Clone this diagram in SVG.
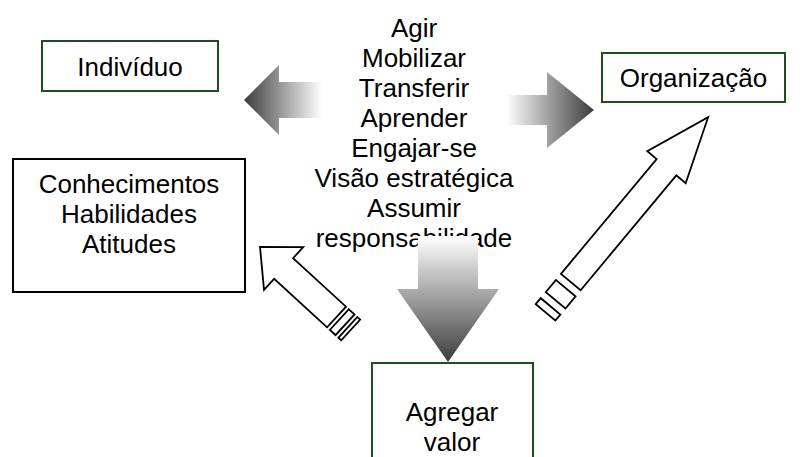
<svg xmlns="http://www.w3.org/2000/svg" width="802" height="457" viewBox="0 0 802 457">
  <defs>
    <style>
      .lbl { font-family: "Liberation Sans", Arial, sans-serif; font-size: 26px; fill: #000; text-anchor: middle; }
      .gbox { fill: #fff; stroke: #1f4f1f; stroke-width: 2; }
      .kbox { fill: #fff; stroke: #000; stroke-width: 2; }
      .out { fill: #fff; stroke: #000; stroke-width: 1.8; stroke-linejoin: miter; }
    </style>
    <linearGradient id="gL" gradientUnits="userSpaceOnUse" x1="244" y1="0" x2="322" y2="0">
      <stop offset="0" stop-color="#3c3c3c"/>
      <stop offset="1" stop-color="#ffffff"/>
    </linearGradient>
    <linearGradient id="gR" gradientUnits="userSpaceOnUse" x1="594" y1="0" x2="506" y2="0">
      <stop offset="0" stop-color="#3c3c3c"/>
      <stop offset="1" stop-color="#ffffff"/>
    </linearGradient>
    <linearGradient id="gD" gradientUnits="userSpaceOnUse" x1="0" y1="362" x2="0" y2="236">
      <stop offset="0" stop-color="#3c3c3c"/>
      <stop offset="1" stop-color="#ffffff"/>
    </linearGradient>
  </defs>
  <rect width="802" height="457" fill="#fff"/>

  <g id="node-individuo">
    <rect class="gbox" x="42" y="41" width="176" height="50"/>
    <text class="lbl" x="130" y="76">Indivíduo</text>
  </g>

  <g id="node-organizacao">
    <rect class="gbox" x="602" y="53" width="183" height="49"/>
    <text class="lbl" x="693.5" y="87">Organização</text>
  </g>

  <g id="node-conhecimentos">
    <rect class="kbox" x="13" y="159" width="232" height="133"/>
    <text class="lbl" x="129" y="193">Conhecimentos</text>
    <text class="lbl" x="129" y="223">Habilidades</text>
    <text class="lbl" x="129" y="253">Atitudes</text>
  </g>

  <g id="node-agregar">
    <rect class="gbox" x="372" y="363" width="161" height="110"/>
    <text class="lbl" x="452" y="421">Agregar</text>
    <text class="lbl" x="452" y="451">valor</text>
  </g>

  <g id="node-acoes">
    <text class="lbl" x="414" y="37">Agir</text>
    <text class="lbl" x="414" y="67">Mobilizar</text>
    <text class="lbl" x="414" y="97">Transferir</text>
    <text class="lbl" x="414" y="127">Aprender</text>
    <text class="lbl" x="414" y="157">Engajar-se</text>
    <text class="lbl" x="414" y="187">Visão estratégica</text>
    <text class="lbl" x="414" y="217">Assumir</text>
    <text class="lbl" x="414" y="247">responsabilidade</text>
  </g>

  <g id="connectors">
    <polygon fill="url(#gL)" points="322,82 279,82 279,65 244,100 279,135 279,118 322,118"/>
    <polygon fill="url(#gR)" points="506,95 547,95 547,72 594,110 547,148 547,125 506,125"/>
    <polygon fill="url(#gD)" points="418,236 478,236 478,289 499,289 448,362 397,289 418,289"/>

    <g transform="translate(350.7,330) rotate(-137.5)">
      <rect class="out" x="0" y="-14" width="3.85" height="28"/>
      <rect class="out" x="7.7" y="-14" width="7.7" height="28"/>
      <polygon class="out" points="19.2,-14 91,-14 91,-29 123,0 91,29 91,14 19.2,14"/>
    </g>

    <g transform="translate(545.5,312.4) rotate(-50.2)">
      <rect class="out" x="0" y="-12.8" width="7.9" height="25.6"/>
      <rect class="out" x="15.8" y="-12.8" width="15.8" height="25.6"/>
      <polygon class="out" points="39.5,-12.8 189,-12.8 189,-25 254,0 189,25 189,12.8 39.5,12.8"/>
    </g>
  </g>
</svg>
